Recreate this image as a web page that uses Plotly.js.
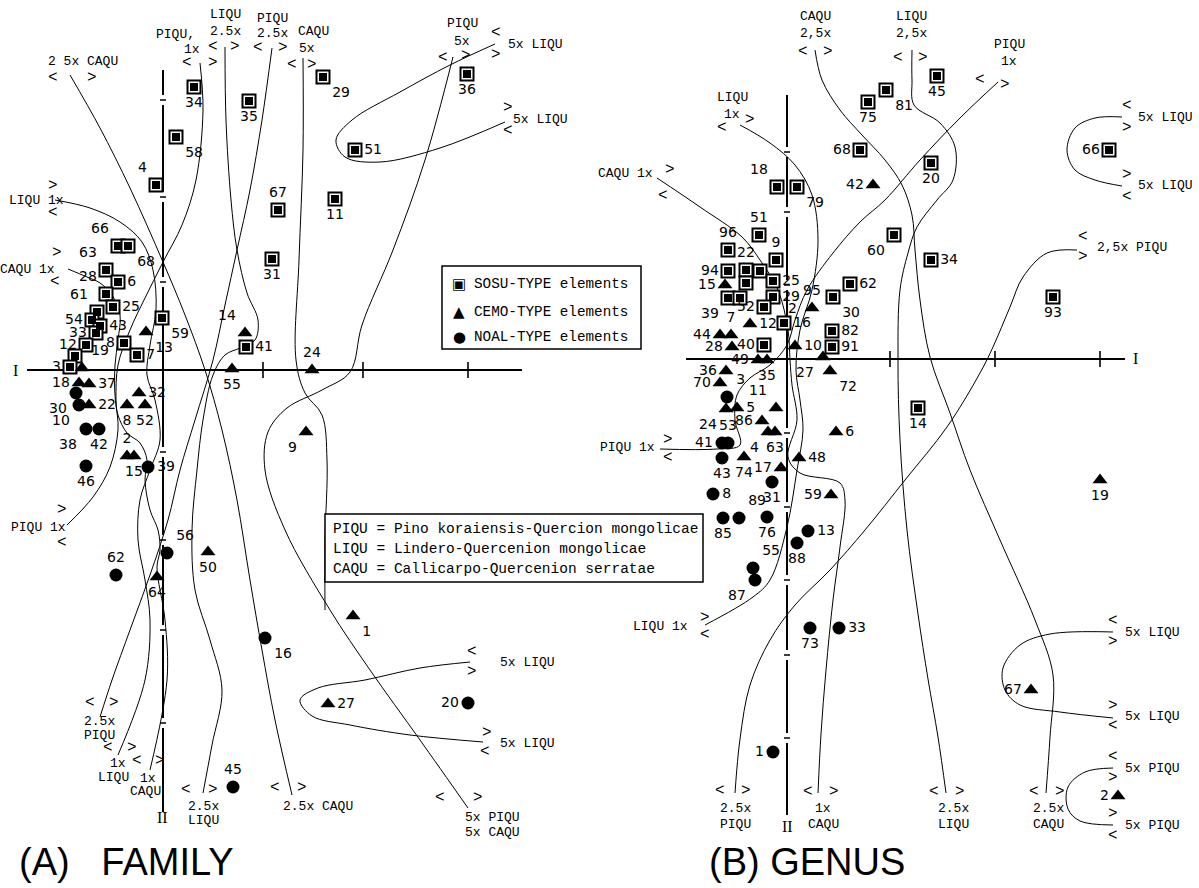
<!DOCTYPE html>
<html><head><meta charset="utf-8">
<script src="https://cdn.plot.ly/plotly-3.0.1.min.js"></script>
<style>html,body{margin:0;padding:0;background:#fff}#chart{width:1199px;height:888px}</style>
</head><body><div id="chart"></div>
<script>
// ===== Panel A : FAMILY (ordination scores, origin = axis cross) =====
const A_sosu_id  = ["34","58","4","35","29","36","51","67","11","31","59","41","66","68","63","6","28","25","61","54","43","33","12","8","","7","3"];
const A_sosu_x   = [31,13,-7,86,160,304,192,115,172,109,-1,83,-45,-35,-57,-45,-57,-50,-66,-71,-63,-67,-77,-39,-88,-26,-93];
const A_sosu_y   = [283,233,185,269,293,296,220,160,171,111,52,23,124,124,100,88,76,63,58,50,44,37,25,27,14,15,3];
const A_sosu_lab = ["bc","br","tl","bc","br","bc","mr","tc","bc","bc","br","mr","tl","br","tl","mr","tl","mr","tl","ml","mr","ml","ml","ml","mc","mr","ml"];

const A_cemo_id  = ["13","19","18","37","22","32","8","52","2","15","14","55","24","9","50","64","1","27"];
const A_cemo_x   = [-17,-81,-84,-74,-74,-24,-36,-18,-36,-29,82,69,149,143,45,-6,190,165];
const A_cemo_y   = [38,2,-13,-14,-35,-23,-35,-35,-86,-86,37,1,0,-62,-182,-207,-246,-334];
const A_cemo_lab = ["br","tr","ml","mr","mr","mr","bc","bc","tc","bc","tl","bc","tc","bl","bc","bc","br","mr"];

const A_noal_id  = ["30","10","38","42","46","39","56","62","16","20","45"];
const A_noal_x   = [-87,-84,-77,-64,-77,-15,4,-47,102,305,70];
const A_noal_y   = [-23,-35,-59,-59,-96,-97,-183,-205,-268,-333,-417];
const A_noal_lab = ["bl","bl","bl","bc","bc","mr","tr","tc","br","ml","tc"];

// isolines, panel A
const A_caqu25_x = [-93,-63,-33,0,22,42,59,74,87,99,112,129];
const A_caqu25_y = [295,242,182,108,55,0,-60,-130,-210,-280,-350,-425];
const A_piqu1_x  = [37,40,33,19,0,-18,-33,-45,-47,-45,-53,-70,-96];
const A_piqu1_y  = [307,260,190,145,108,72,40,5,-30,-60,-97,-127,-155];
const A_liqu1_x  = [-108,-73,-43,-21,-10,-7,-13,-16,-8,-3,-13,-23,-25,-18,-13,-18,-45];
const A_liqu1_y  = [170,162,148,128,100,60,25,-5,-30,-70,-100,-130,-170,-210,-250,-310,-385];
const A_caqu1_x  = [-95,-76,-63,-51,-43,-45,-48,-48,-45,-36,-23,-16,-18,-13,-5,-3,-6,2,4,-13];
const A_caqu1_y  = [101,93,87,75,55,30,5,-25,-45,-63,-73,-90,-110,-140,-160,-180,-197,-250,-310,-400];
const A_piqu25_x = [109,99,87,74,62,50,32,17,5,-13,-33,-51,-63];
const A_piqu25_y = [322,250,180,120,65,10,-50,-100,-150,-205,-260,-310,-347];
const A_liqu25_x = [62,63,68,74,84,95,92,77,62,50,40,34,29,32,47,59,49,40];
const A_liqu25_y = [323,250,170,120,77,50,30,22,15,-5,-50,-100,-160,-220,-270,-320,-375,-423];
const A_caqu5_x  = [140,140,136,133,142,159,164,162,162];
const A_caqu5_y  = [312,220,110,10,-23,-45,-90,-170,-240];
const A_piqu5_x  = [290,262,230,199,187,159,124,105,102,122,167,207,257,305];
const A_piqu5_y  = [313,210,120,45,-2,-20,-38,-62,-100,-160,-240,-300,-370,-438];
const A_liqu5a_x = [332,287,237,189,173,182,217,277,342];
const A_liqu5a_y = [326,305,278,250,230,213,208,222,248];
const A_liqu5b_x = [307,257,202,155,137,149,187,247,320];
const A_liqu5b_y = [-292,-298,-310,-318,-330,-346,-355,-365,-372];

const A_I_ticks = [100,200,305],  A_I_ends = [-136,359];
const A_II_ticks = [270,173,88,-82,-170,-260,-353], A_II_ends = [300,-442];

// ===== Panel B : GENUS =====
const B_sosu_id  = ["75","81","45","68","20","18","79","51","96","9","60","34","22","94","","","25","62","39","","29","30","52","16","82","40","91","93","66","14"];
const B_sosu_x   = [81,99,150,73,144,-10,10,-28,-59,-11,107,144,-41,-59,-27,-41,-14,63,-59,-47,-14,46,-23,-3,45,-23,45,266,322,131];
const B_sosu_y   = [257,269,283,209,196,172,172,124,109,99,124,99,89,88,88,76,78,75,61,61,62,62,52,36,28,14,12,62,209,-49];
const B_sosu_lab = ["bc","br","bc","ml","bc","tl","br","tc","tc","tc","bl","mr","tc","ml","mc","mc","mr","mr","bl","mc","mr","br","ml","mr","mr","ml","mr","bc","ml","bc"];

const B_cemo_id  = ["42","15","95","12","44","7","28","10","49","35","27","72","36","70","5","11","24","86","4","63","6","74","48","17","59","19","67","2"];
const B_cemo_x   = [86,-62,25,-37,-67,-56,-55,8,-29,-20,36,43,-61,-67,-50,-11,-61,-25,-19,-12,49,-43,12,-6,44,313,244,331];
const B_cemo_y   = [174,74,51,35,24,24,12,13,-1,-1,2,-12,-12,-24,-49,-49,-50,-62,-73,-73,-73,-98,-99,-109,-136,-121,-331,-437];
const B_cemo_lab = ["ml","ml","tc","mr","ml","tc","ml","mr","ml","bc","bl","br","ml","ml","mr","tl","bl","ml","bl","bc","mr","bc","mr","ml","ml","bc","ml","ml"];

const B_noal_id  = ["3","41","53","43","31","8","89","85","76","13","88","55","87","73","33","1"];
const B_noal_x   = [-60,-65,-59,-65,-15,-74,-48,-64,-20,21,10,-34,-32,23,52,-14];
const B_noal_y   = [-38,-84,-84,-99,-123,-135,-159,-159,-158,-172,-184,-209,-221,-269,-269,-393];
const B_noal_lab = ["tr","ml","tc","bc","bc","mr","tr","bc","bc","mr","bc","tr","bl","bc","mr","ml"];

const B_liqu1_x  = [-47,-17,8,25,31,25,13,9,13,16,10,0,-17,-34,-82];
const B_liqu1_y  = [234,216,194,164,119,69,29,-11,-41,-71,-111,-168,-221,-238,-266];
const B_caqu1_x  = [-130,-87,-45,-27,-9,1,3,5,10,1,13,53,58,53,46,39,34,31];
const B_caqu1_y  = [181,152,122,99,69,29,-1,-26,-61,-98,-114,-124,-141,-188,-241,-311,-375,-434];
const B_piqu1_x  = [211,173,133,98,73,46,20,8,0,-17,-37,-50,-52,-47,-70,-127];
const B_piqu1_y  = [277,241,199,159,137,106,69,39,14,-6,-19,-36,-61,-86,-90,-90];
const B_piqu25_x = [290,260,236,223,206,193,160,118,78,43,8,-17,-37,-47,-52];
const B_piqu25_y = [109,106,82,52,12,-14,-68,-121,-171,-211,-246,-281,-326,-380,-434];
const B_caqu25_x = [28,35,53,75,98,115,125,128,133,143,163,183,213,248,266,263,259];
const B_caqu25_y = [309,279,249,224,199,174,144,109,59,2,-54,-111,-181,-261,-316,-378,-434];
const B_liqu25_x = [125,125,127,153,168,166,150,130,121,113,111,113,120,131,141,151,159];
const B_liqu25_y = [309,279,254,236,212,179,159,132,106,69,-1,-81,-171,-255,-320,-378,-434];
const B_liqu5a_x = [335,308,288,280,288,308,335];
const B_liqu5a_y = [242,241,231,209,189,179,173];
const B_liqu5b_x = [326,263,233,216,218,233,273,326];
const B_liqu5b_y = [-273,-275,-286,-309,-331,-346,-353,-359];
const B_piqu5_x  = [326,298,281,281,293,326];
const B_piqu5_y  = [-409,-413,-428,-450,-462,-466];

const B_I_ticks = [103,208,313], B_I_ends = [-101,338];
const B_II_ticks = [207,147,74,-74,-148,-221,-296,-379], B_II_ends = [264,-456];

// ===== text labels (page positions) =====
const W = 1199, H = 888;
const isoLabels = [
 ["2 5x CAQU",83,62],["PIQU,",175,35],["1x",192,50],["LIQU",225,15],["2.5x",225,32],["PIQU",272,18],["2.5x",272,33],
 ["CAQU",313,32],["5x",307,48],["PIQU",462,24],["5x",462,41],["5x LIQU",535,44],["5x LIQU",540,119],
 ["LIQU 1x",36,200],["CAQU 1x",27,269],["PIQU 1x",38,527],["5x LIQU",527,662],["5x LIQU",527,743],
 ["2.5x",100,721],["PIQU",100,735],["1x",118,763],["LIQU",113,777],["1x",148,778],["CAQU",145,791],
 ["2.5x",203,806],["LIQU",203,820],["2.5x CAQU",318,806],["5x PIQU",492,817],["5x CAQU",492,832],
 ["LIQU",732,97],["1x",732,115],["CAQU",815,16],["2,5x",815,34],["LIQU",911,16],["2,5x",911,34],
 ["PIQU",1009,44],["1x",1009,62],["CAQU 1x",625,173],["PIQU 1x",627,448],["LIQU 1x",660,626],
 ["5x LIQU",1165,118],["5x LIQU",1165,186],["2,5x PIQU",1132,247],["5x LIQU",1152,632],["5x LIQU",1152,716],
 ["5x PIQU",1152,768],["5x PIQU",1152,825],["2.5x",735,808],["PIQU",735,824],["1x",823,808],["CAQU",823,824],
 ["2.5x",953,808],["LIQU",953,824],["2.5x",1048,808],["CAQU",1048,824]
];
const chevrons = [
 ["<",53,78],[">",92,78],["<",187,63],[">",213,63],["<",213,47],[">",235,47],["<",258,48],[">",283,48],
 ["<",292,65],[">",312,65],["<",443,58],[">",466,56],["<",496,33],[">",496,55],[">",508,108],["<",508,131],
 [">",53,186],["<",53,213],[">",57,253],["<",55,282],[">",62,510],["<",62,543],["<",472,652],[">",472,672],
 [">",487,733],["<",485,752],["<",90,703],[">",114,703],["<",108,748],[">",132,748],["<",137,761],[">",160,761],
 ["<",186,790],[">",213,790],["<",275,788],[">",302,788],["<",440,798],[">",478,798],
 ["<",722,128],[">",750,120],["<",803,52],[">",828,52],["<",898,58],[">",923,58],["<",980,80],[">",1005,85],
 [">",670,170],["<",663,196],[">",668,440],["<",668,458],[">",705,618],["<",705,635],
 ["<",1127,106],[">",1127,128],[">",1127,175],["<",1127,197],["<",1083,237],[">",1083,257],
 ["<",1113,621],[">",1113,642],[">",1113,706],["<",1113,726],["<",1113,757],[">",1113,778],[">",1113,814],["<",1113,836],
 ["<",720,791],[">",746,791],["<",808,792],[">",834,792],["<",934,792],[">",960,792],["<",1034,792],[">",1060,792]
];
const axisNames = [["I",15,370],["II",162,817],["I",1135,358],["II",787,826]];
const legendItems = [["\u25A3","SOSU-TYPE elements",284],["\u25B2","CEMO-TYPE elements",312],["\u25CF","NOAL-TYPE elements",337]];
const defLines = ["PIQU = Pino koraiensis-Quercion mongolicae","LIQU = Lindero-Quercenion mongolicae","CAQU = Callicarpo-Quercenion serratae"];
const titles = [["(A)&nbsp;&nbsp;&nbsp;FAMILY",127,862],["(B)&nbsp;GENUS",807,862]];

// ===== build =====
const POS = {tl:"top left",tc:"top center",tr:"top right",ml:"middle left",mc:"middle center",mr:"middle right",bl:"bottom left",bc:"bottom center",br:"bottom right"};
const NUMFONT = {family:"DejaVu Sans", size:14, color:"black"};
const MONO = "Liberation Mono";
const traces = [];
function curve(xs, ys, xa, ya){ traces.push({type:"scatter",mode:"lines",x:xs,y:ys,xaxis:xa,yaxis:ya,hoverinfo:"skip",
  line:{color:"black",width:1,shape:"spline",smoothing:1}}); }
function axisH(ticks, ends, xa, ya){
  traces.push({type:"scatter",mode:"lines",x:ends,y:[0,0],xaxis:xa,yaxis:ya,hoverinfo:"skip",line:{color:"black",width:2}});
  const tx=[],ty=[]; ticks.forEach(t=>{tx.push(t,t,null);ty.push(-8,8,null);});
  traces.push({type:"scatter",mode:"lines",x:tx,y:ty,xaxis:xa,yaxis:ya,hoverinfo:"skip",line:{color:"black",width:1.6}});
}
function axisV(ticks, ends, xa, ya){
  const g=5, ys=[ends[0]], xs=[0];
  ticks.forEach(t=>{ ys.push(t+g,null,t-g); xs.push(0,null,0); });
  ys.push(ends[1]); xs.push(0);
  traces.push({type:"scatter",mode:"lines",x:xs,y:ys,xaxis:xa,yaxis:ya,hoverinfo:"skip",connectgaps:false,line:{color:"black",width:2}});
  const tx=[],ty=[]; ticks.forEach(t=>{tx.push(-3,3,null);ty.push(t,t,null);});
  traces.push({type:"scatter",mode:"lines",x:tx,y:ty,xaxis:xa,yaxis:ya,hoverinfo:"skip",line:{color:"black",width:1.5}});
}
function sosu(ids,xs,ys,labs,xa,ya){
  traces.push({type:"scatter",mode:"markers+text",x:xs,y:ys,text:ids,textposition:labs.map(k=>POS[k]),textfont:NUMFONT,
    xaxis:xa,yaxis:ya,cliponaxis:false,hoverinfo:"skip",marker:{symbol:"square",size:13,color:"white",line:{color:"black",width:2}}});
  traces.push({type:"scatter",mode:"markers",x:xs,y:ys,xaxis:xa,yaxis:ya,hoverinfo:"skip",marker:{symbol:"square",size:8,color:"black"}});
}
function pts(ids,xs,ys,labs,xa,ya,sym,sz){
  traces.push({type:"scatter",mode:"markers+text",x:xs,y:ys,text:ids,textposition:labs.map(k=>POS[k]),textfont:NUMFONT,
    xaxis:xa,yaxis:ya,cliponaxis:false,hoverinfo:"skip",marker:{symbol:sym,size:sz,color:"black"}});
}
// panel A
[[A_caqu25_x,A_caqu25_y],[A_piqu1_x,A_piqu1_y],[A_liqu1_x,A_liqu1_y],[A_caqu1_x,A_caqu1_y],[A_piqu25_x,A_piqu25_y],
 [A_liqu25_x,A_liqu25_y],[A_caqu5_x,A_caqu5_y],[A_piqu5_x,A_piqu5_y],[A_liqu5a_x,A_liqu5a_y],[A_liqu5b_x,A_liqu5b_y]]
 .forEach(c=>curve(c[0],c[1],"x","y"));
axisH(A_I_ticks,A_I_ends,"x","y"); axisV(A_II_ticks,A_II_ends,"x","y");
sosu(A_sosu_id,A_sosu_x,A_sosu_y,A_sosu_lab,"x","y");
pts(A_cemo_id,A_cemo_x,A_cemo_y,A_cemo_lab,"x","y","triangle-up",13);
pts(A_noal_id,A_noal_x,A_noal_y,A_noal_lab,"x","y","circle",13);
// panel B
[[B_liqu1_x,B_liqu1_y],[B_caqu1_x,B_caqu1_y],[B_piqu1_x,B_piqu1_y],[B_piqu25_x,B_piqu25_y],[B_caqu25_x,B_caqu25_y],
 [B_liqu25_x,B_liqu25_y],[B_liqu5a_x,B_liqu5a_y],[B_liqu5b_x,B_liqu5b_y],[B_piqu5_x,B_piqu5_y]]
 .forEach(c=>curve(c[0],c[1],"x2","y2"));
axisH(B_I_ticks,B_I_ends,"x2","y2"); axisV(B_II_ticks,B_II_ends,"x2","y2");
sosu(B_sosu_id,B_sosu_x,B_sosu_y,B_sosu_lab,"x2","y2");
pts(B_cemo_id,B_cemo_x,B_cemo_y,B_cemo_lab,"x2","y2","triangle-up",13);
pts(B_noal_id,B_noal_x,B_noal_y,B_noal_lab,"x2","y2","circle",13);

function ann(t,px,py,size,fam,anchor){ return {xref:"paper",yref:"paper",x:px/W,y:1-py/H,text:t,showarrow:false,
  xanchor:anchor||"center",yanchor:"middle",font:{family:fam,size:size,color:"black"}}; }
const annotations = [];
isoLabels.forEach(a=>annotations.push(ann(a[0],a[1],a[2],13,MONO)));
chevrons.forEach(a=>annotations.push(ann(a[0],a[1],a[2],16,MONO)));
axisNames.forEach(a=>annotations.push(ann(a[0],a[1],a[2],16,"Liberation Serif")));
legendItems.forEach(a=>{ annotations.push(ann(a[0],459,a[2],15,"DejaVu Sans")); annotations.push(ann(a[1],472,a[2],14.3,MONO,"left")); });
defLines.forEach((t,i)=>annotations.push(ann(t,331,529+i*20,14.5,MONO,"left")));
titles.forEach(a=>annotations.push(ann(a[0],a[1],a[2],38,"Liberation Sans")));
annotations.push({xref:"x2",yref:"y2",x:5,y:51,text:"2",showarrow:false,font:NUMFONT});

const shapes = [
 {type:"rect",xref:"paper",yref:"paper",x0:442/W,x1:641/W,y0:1-349/H,y1:1-266/H,line:{color:"black",width:1.5}},
 {type:"rect",xref:"paper",yref:"paper",x0:325/W,x1:703/W,y0:1-582/H,y1:1-514/H,line:{color:"black",width:1.5},fillcolor:"white"}
];
const layout = {width:W,height:H,margin:{l:0,r:0,t:0,b:0},paper_bgcolor:"white",plot_bgcolor:"rgba(0,0,0,0)",showlegend:false,
 xaxis:{domain:[0,1],range:[-163,1036],visible:false,fixedrange:true},
 yaxis:{domain:[0,1],range:[-518,370],visible:false,fixedrange:true},
 xaxis2:{domain:[0,1],range:[-787,412],visible:false,anchor:"y2",fixedrange:true},
 yaxis2:{domain:[0,1],range:[-529,359],visible:false,anchor:"x2",fixedrange:true},
 annotations:annotations, shapes:shapes};
Plotly.newPlot("chart",traces,layout,{staticPlot:true});
</script></body></html>
